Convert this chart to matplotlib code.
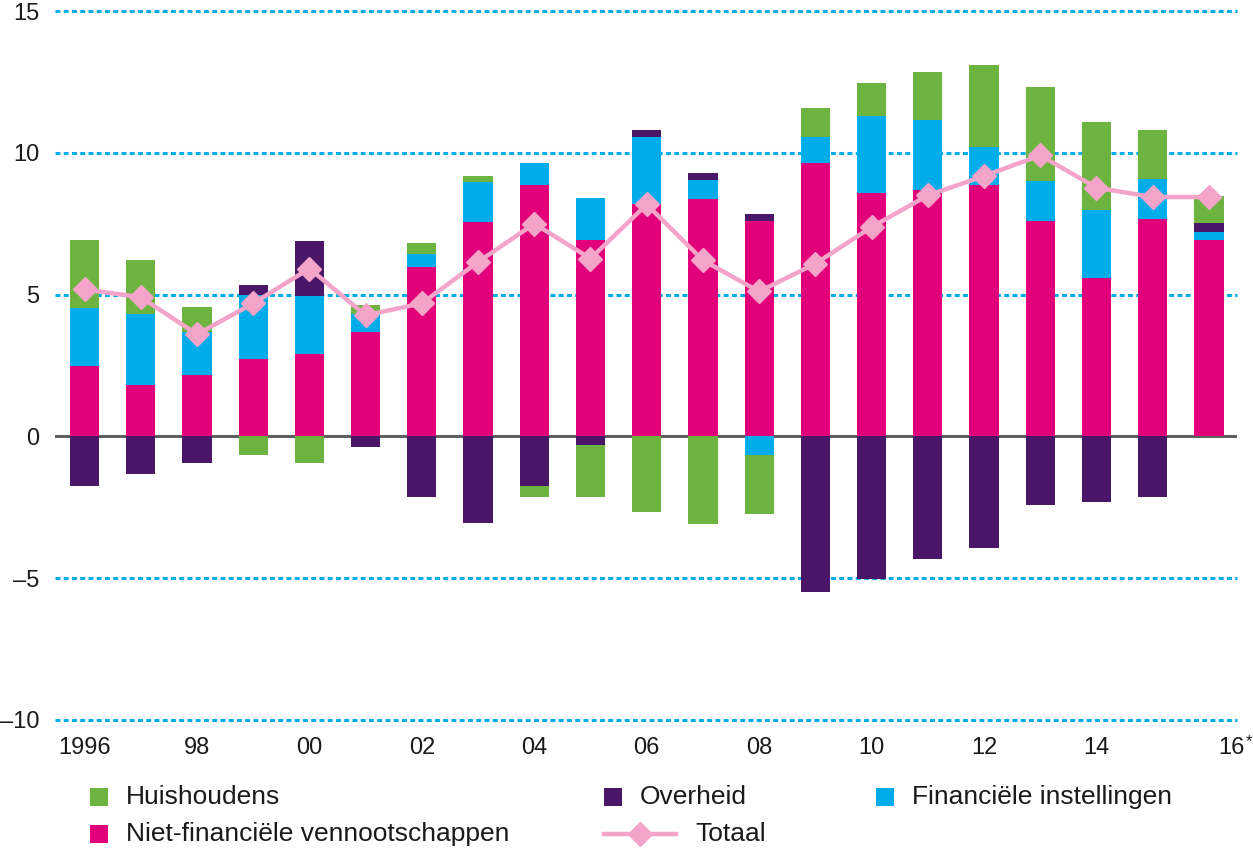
import numpy as np
import matplotlib
matplotlib.use("Agg")
import matplotlib.pyplot as plt
from matplotlib.patches import Rectangle
from matplotlib.lines import Line2D
from matplotlib.transforms import ScaledTranslation

plt.rcParams['font.family'] = ['Liberation Sans', 'DejaVu Sans']

# data (percentages)
years = list(range(1996, 2017))
tick_labels = ['1996', '98', '00', '02', '04', '06', '08', '10', '12', '14', '16']
niet_fin = [2.50, 1.80, 2.15, 2.72, 2.90, 3.68, 5.96, 7.56, 8.85, 6.92, 8.18,
            8.36, 7.58, 9.63, 8.57, 8.68, 8.85, 7.58, 5.58, 7.65, 6.91]
fin_inst = [2.02, 2.52, 1.53, 2.26, 2.05, 0.63, 0.47, 1.41, 0.78, 1.47, 2.36,
            0.67, -0.67, 0.92, 2.72, 2.47, 1.34, 1.41, 2.42, 1.41, 0.28]
overheid = [-1.76, -1.34, -0.95, 0.35, 1.93, -0.39, -2.12, -3.07, -1.76, -0.31, 0.25,
            0.25, 0.25, -5.47, -5.04, -4.34, -3.95, -2.43, -2.33, -2.12, 0.35]
huishoudens = [2.42, 1.89, 0.87, -0.66, -0.95, 0.31, 0.38, 0.20, -0.39, -1.84, -2.65,
               -3.10, -2.08, 1.02, 1.16, 1.69, 2.89, 3.32, 3.07, 1.73, 0.92]
totaal = [5.18, 4.91, 3.60, 4.69, 5.92, 4.27, 4.69, 6.15, 7.50, 6.27, 8.18,
          6.21, 5.11, 6.09, 7.38, 8.50, 9.18, 9.91, 8.77, 8.44, 8.44]

GREEN = '#6DB33F'
PURPLE = '#4A1768'
BLUE = '#00ADEA'
MAGENTA = '#E2007A'
PINK = '#F4A3C9'
TEXT = '#1a1a1a'

W, H = 1253, 849
fig = plt.figure(figsize=(W / 100, H / 100), dpi=100)
ax = fig.add_axes([55 / W, (H - 720) / H, (1237 - 55) / W, (720 - 11) / H])

x = np.array(years)
pos_base = np.zeros(len(x))
neg_base = np.zeros(len(x))
for vals, col in [(niet_fin, MAGENTA), (fin_inst, BLUE), (overheid, PURPLE), (huishoudens, GREEN)]:
    v = np.array(vals)
    bottom = np.where(v >= 0, pos_base, neg_base)
    ax.bar(x, v, bottom=bottom, width=0.52, color=col, zorder=3, linewidth=0)
    pos_base += np.where(v >= 0, v, 0)
    neg_base += np.where(v < 0, v, 0)

ax.plot(x, totaal, color=PINK, lw=3.2, marker='D', markersize=12, zorder=4)

# grid
for g in [15, 10, 5, -5, -10]:
    ax.axhline(g, color=BLUE, lw=2.2, dashes=(1.6, 1.1), zorder=1, clip_on=False)
ax.axhline(0, color='#5f5f5f', lw=2.2, zorder=2)

ax.set_xlim(1995.475, 2016.5)
ax.set_ylim(-10, 15)
for s in ax.spines.values():
    s.set_visible(False)
ax.set_yticks([15, 10, 5, 0, -5, -10])
ax.set_yticklabels(['15', '10', '5', '0', '\u20135', '\u201310'])
ax.set_xticks(years[::2])
ax.set_xticklabels(tick_labels)
ax.tick_params(axis='both', length=0, labelsize=17, colors=TEXT)
ax.tick_params(axis='y', pad=11)
ax.tick_params(axis='x', pad=12)

# last label ("16*") sits a bit to the right in the original
last = ax.get_xticklabels()[-1]
last.set_transform(last.get_transform() + ScaledTranslation(0.23, 0, fig.dpi_scale_trans))
fig.text(1249 / W, (H - 742) / H, '*', fontsize=12, color=TEXT, ha='center', va='center')


# legend drawn by hand so the squares/line sit like the original
def fx(px):
    return px / W


def fy(py):
    return (H - py) / H


legend_items = [
    ('patch', GREEN, 'Huishoudens', 90, 797),
    ('patch', MAGENTA, 'Niet-financiële vennootschappen', 90, 834),
    ('patch', PURPLE, 'Overheid', 604, 797),
    ('line', PINK, 'Totaal', 604, 834),
    ('patch', BLUE, 'Financiële instellingen', 876, 797),
]
for kind, col, label, px, py in legend_items:
    if kind == 'patch':
        fig.add_artist(Rectangle((fx(px), fy(py + 9)), 18 / W, 18 / H,
                                 transform=fig.transFigure, color=col, lw=0))
        tx = px + 36
    else:
        fig.add_artist(Line2D([fx(px), fx(px + 72)], [fy(py), fy(py)], transform=fig.transFigure,
                              color=col, lw=3.2))
        fig.add_artist(Line2D([fx(px + 36)], [fy(py)], transform=fig.transFigure,
                              color=col, marker='D', markersize=12))
        tx = px + 91
    fig.text(fx(tx), fy(py), label, fontsize=19, color=TEXT, va='center', ha='left')

fig.savefig('out.png', dpi=100)
